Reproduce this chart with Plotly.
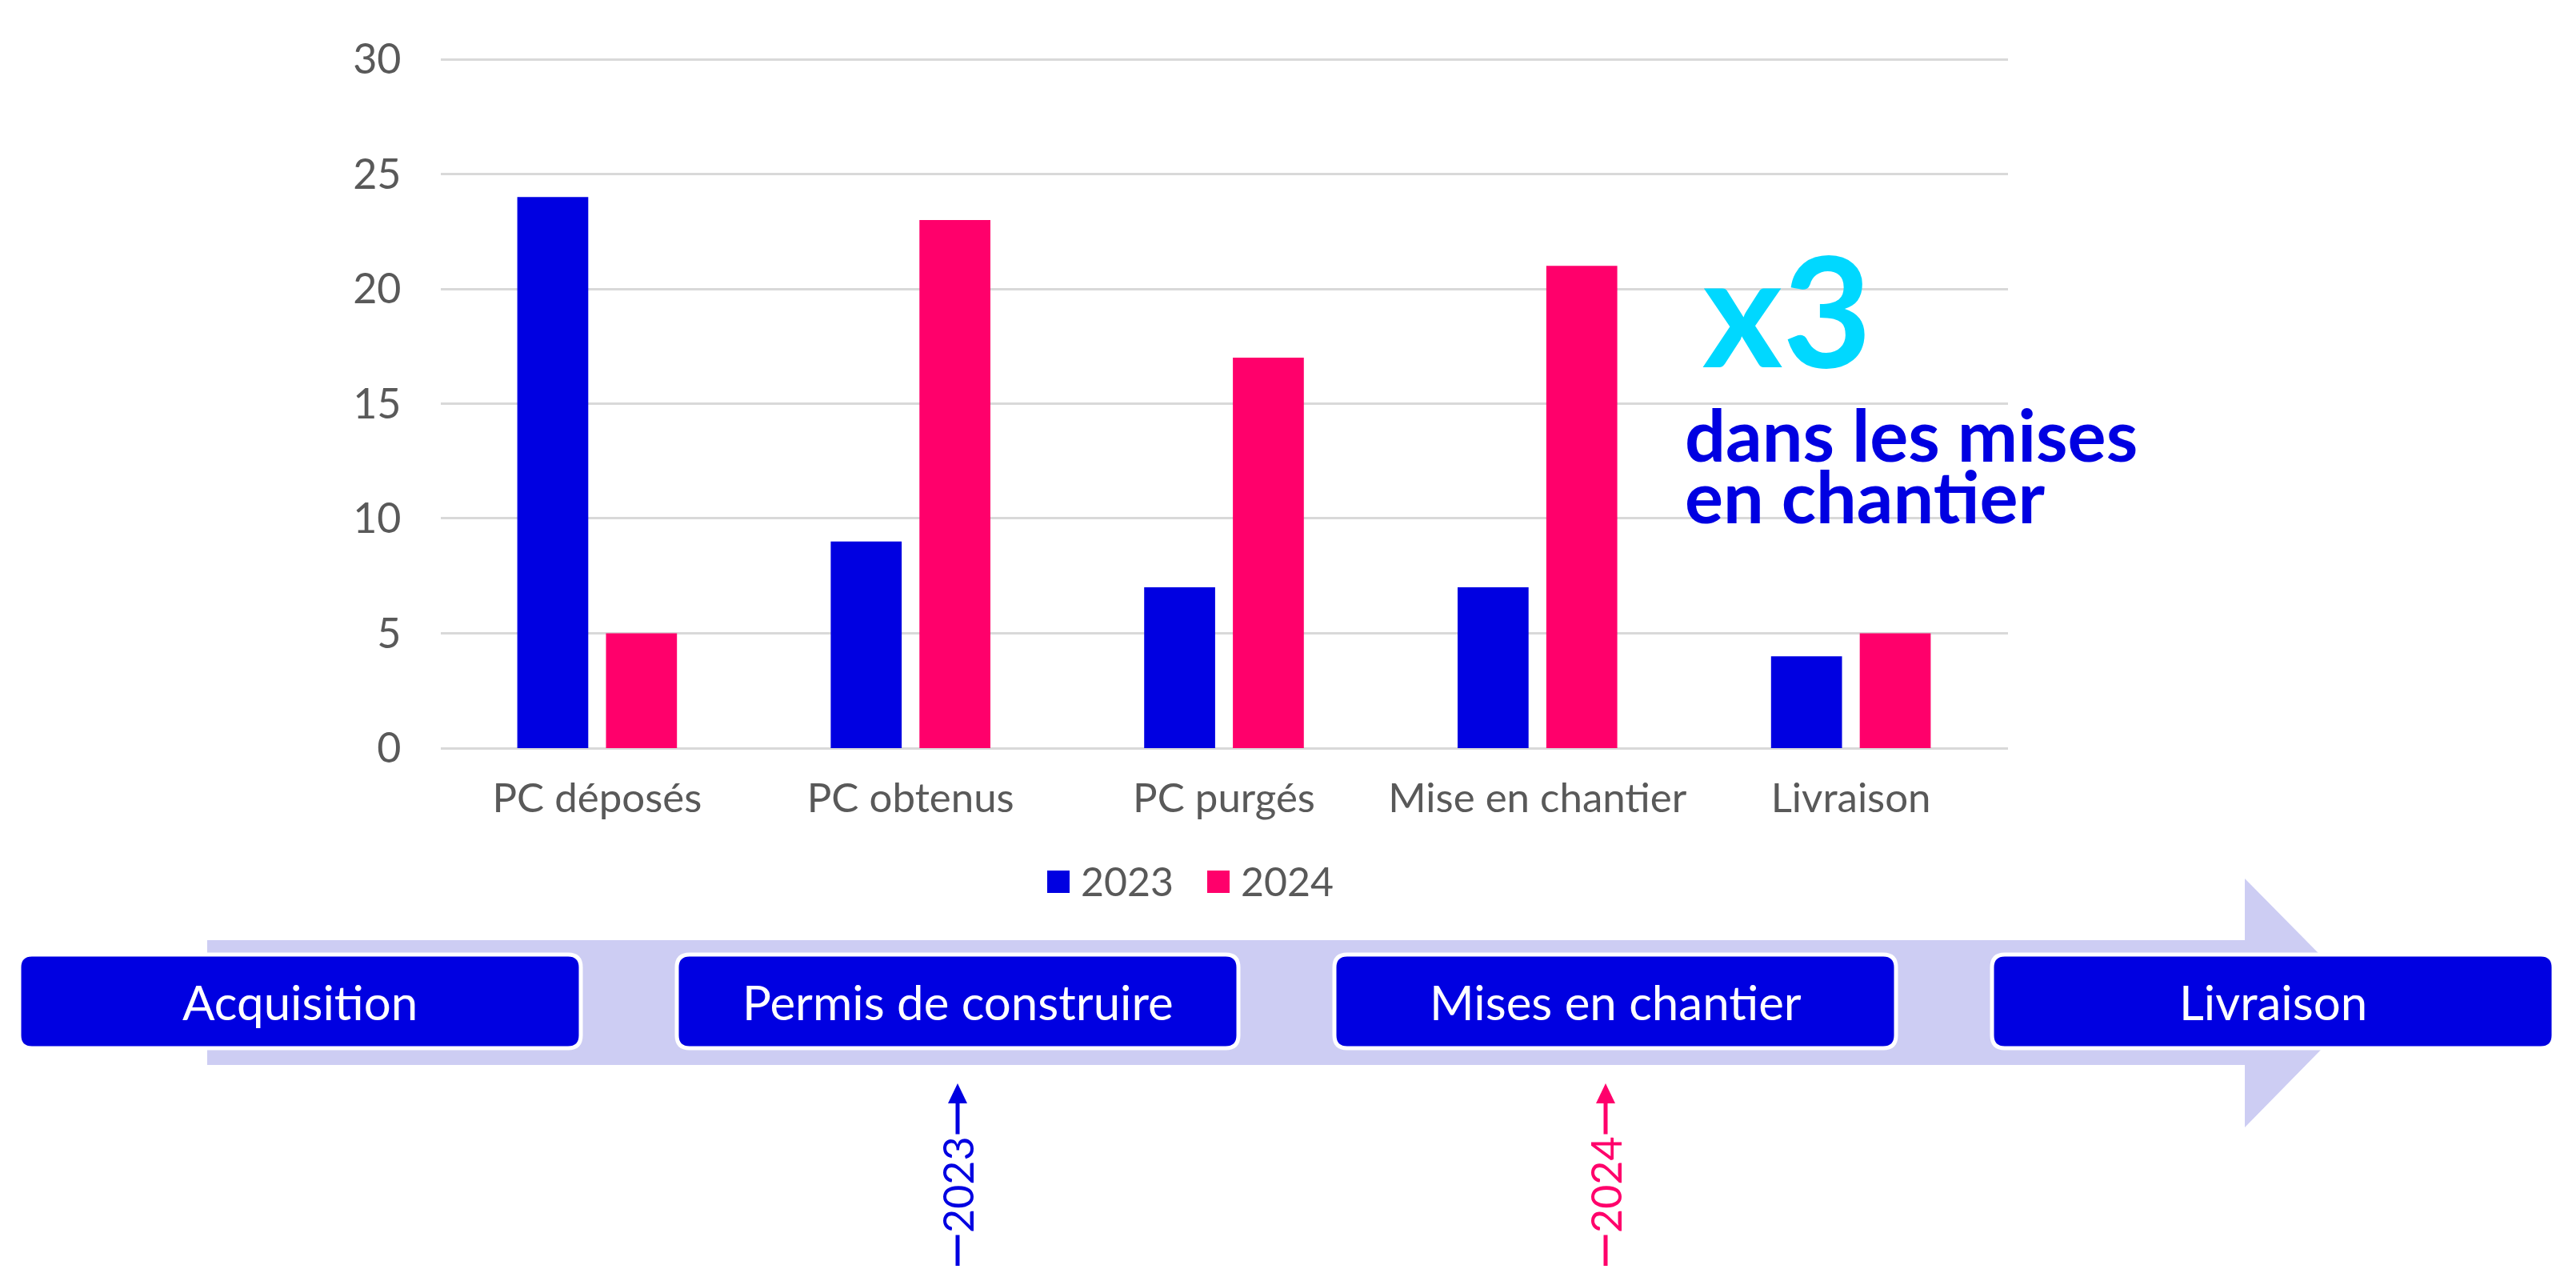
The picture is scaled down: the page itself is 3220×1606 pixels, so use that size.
import plotly.graph_objects as go

W, H = 3220, 1606

# ---- data ----
categories = ["PC déposés", "PC obtenus", "PC purgés", "Mise en chantier", "Livraison"]
series_names = ["2023", "2024"]
values_2023 = [24, 9, 7, 7, 4]
values_2024 = [5, 23, 17, 21, 5]
y_ticks = [0, 5, 10, 15, 20, 25, 30]
stages = ["Acquisition", "Permis de construire", "Mises en chantier", "Livraison"]
headline = "x3"
subline = ["dans les mises", "en chantier"]
year_markers = ["2023", "2024"]

# ---- style ----
BLUE = "#0000E1"
PINK = "#FF006B"
CYAN = "#00D8FF"
LAV = "#CDCDF3"
GRID = "#D9D9D9"
TXT = "#595959"
FONT = "Lato"


def px(x):
    return x / W


def py(y):
    return 1 - y / H


def rrect(x0, y0, x1, y1, r):
    return (f"M{px(x0 + r)},{py(y0)} L{px(x1 - r)},{py(y0)} "
            f"Q{px(x1)},{py(y0)} {px(x1)},{py(y0 + r)} L{px(x1)},{py(y1 - r)} "
            f"Q{px(x1)},{py(y1)} {px(x1 - r)},{py(y1)} L{px(x0 + r)},{py(y1)} "
            f"Q{px(x0)},{py(y1)} {px(x0)},{py(y1 - r)} L{px(x0)},{py(y0 + r)} "
            f"Q{px(x0)},{py(y0)} {px(x0 + r)},{py(y0)} Z")


def poly(pts):
    return "M" + " L".join(f"{px(x)},{py(y)}" for x, y in pts) + " Z"


fig = go.Figure()
fig.add_trace(go.Bar(x=categories, y=values_2023, name=series_names[0],
                     marker=dict(color=BLUE, line=dict(width=0)), showlegend=False))
fig.add_trace(go.Bar(x=categories, y=values_2024, name=series_names[1],
                     marker=dict(color=PINK, line=dict(width=0)), showlegend=False))

shapes = []
annotations = []

# ---- custom legend ----
leg = [(1309, BLUE, series_names[0]), (1509, PINK, series_names[1])]
for lx, col, name in leg:
    shapes.append(dict(type="rect", xref="paper", yref="paper",
                       x0=px(lx), x1=px(lx + 28), y0=py(1088), y1=py(1116),
                       fillcolor=col, line=dict(width=0)))
    annotations.append(dict(text=name, x=px(lx + 40), y=py(1101), xref="paper", yref="paper",
                            xanchor="left", yanchor="middle", showarrow=False,
                            font=dict(family=FONT, size=50, color=TXT)))

# ---- timeline arrow ----
shapes.append(dict(type="path", xref="paper", yref="paper", layer="below",
                   path=poly([(259, 1175), (2806, 1175), (2806, 1098), (2959, 1253),
                              (2806, 1409), (2806, 1331), (259, 1331)]),
                   fillcolor=LAV, line=dict(width=0)))

box_w = 702
for i, st in enumerate(stages):
    x0 = 24 + i * 822
    shapes.append(dict(type="path", xref="paper", yref="paper",
                       path=rrect(x0, 1193, x0 + box_w, 1310, 16),
                       fillcolor=BLUE, line=dict(color="white", width=5)))
    annotations.append(dict(text=st, x=px(x0 + box_w / 2), y=py(1252), xref="paper", yref="paper",
                            xanchor="center", yanchor="middle", showarrow=False,
                            font=dict(family=FONT, size=60, color="white")))

# ---- year markers under timeline ----
for (mx, col), yr in zip([(1197, BLUE), (2007, PINK)], year_markers):
    shapes.append(dict(type="line", xref="paper", yref="paper",
                       x0=px(mx), x1=px(mx), y0=py(1582), y1=py(1376),
                       line=dict(color=col, width=5)))
    shapes.append(dict(type="path", xref="paper", yref="paper",
                       path=poly([(mx, 1354), (mx + 12, 1379), (mx - 12, 1379)]),
                       fillcolor=col, line=dict(width=0)))
    annotations.append(dict(text=yr, x=px(mx), y=py(1481), xref="paper", yref="paper",
                            xanchor="center", yanchor="middle", showarrow=False, textangle=-90,
                            bgcolor="white", borderpad=2,
                            font=dict(family=FONT, size=52, color=col)))

# ---- callout ----
annotations.append(dict(text=f"<b>{headline}</b>", x=px(2126), y=py(384), xref="paper", yref="paper",
                        xanchor="left", yanchor="middle", showarrow=False,
                        font=dict(family=FONT, size=192, color=CYAN)))
for txt, yy in zip(subline, [542, 619]):
    annotations.append(dict(text=f"<b>{txt}</b>", x=px(2104), y=py(yy), xref="paper", yref="paper",
                            xanchor="left", yanchor="middle", showarrow=False,
                            font=dict(family=FONT, size=90, color=BLUE)))

unit = (935 - 74) / 30
ytop = 30.05
fig.update_layout(
    width=W, height=H, autosize=False,
    margin=dict(l=0, r=0, t=0, b=0, pad=0),
    paper_bgcolor="white", plot_bgcolor="white",
    barmode="group", bargap=0.434, bargroupgap=0.2,
    showlegend=False,
    xaxis=dict(domain=[550.5 / W, 2509.5 / W], showgrid=False, showline=False,
               zeroline=False, ticks="", ticklabelstandoff=28, automargin=False,
               tickfont=dict(family=FONT, size=51, color=TXT)),
    yaxis=dict(domain=[1 - 935 / H, 1 - (935 - ytop * unit) / H], range=[0, ytop],
               tickvals=y_ticks, automargin=False,
               showgrid=True, gridcolor=GRID, gridwidth=3, zeroline=True,
               zerolinecolor=GRID, zerolinewidth=3, showline=False, ticks="",
               ticklabelstandoff=48,
               tickfont=dict(family=FONT, size=52, color=TXT)),
    shapes=shapes, annotations=annotations,
)

fig.write_html("out.html", config={"displayModeBar": False},
               post_script="document.body.style.margin='0px';")
